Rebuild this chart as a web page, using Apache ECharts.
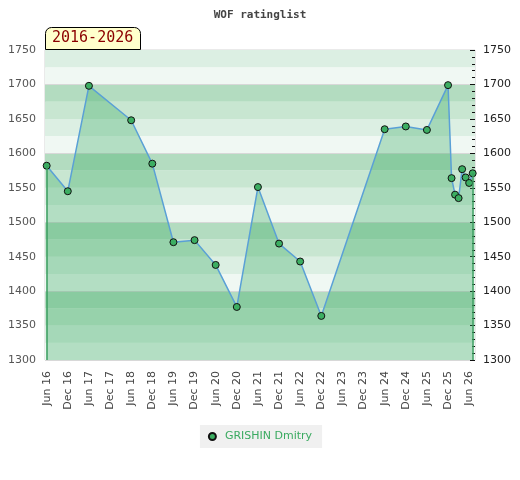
<!DOCTYPE html>
<html lang="en">

<head>
    <meta charset="UTF-8">
    <title>WOF ratinglist</title>
    <style>
        html, body { margin: 0; padding: 0; background: #fff; }
        .show { width: 520px; height: 480px; }
    </style>
</head>

<body>
    <div class="show"></div>
    <script src="https://cdn.jsdelivr.net/npm/echarts@6/dist/echarts.min.js"></script>
    <script>
        // rating list months and values
        let months = ['2016-06', '2016-12', '2017-06', '2018-06', '2018-12', '2019-06', '2019-12', '2020-06',
            '2020-12', '2021-06', '2021-12', '2022-06', '2022-12', '2024-06', '2024-12', '2025-06', '2025-12',
            '2026-01', '2026-02', '2026-03', '2026-04', '2026-05', '2026-06', '2026-07'];
        let ratings = [1582, 1545, 1698, 1648, 1585, 1471, 1474, 1438, 1377, 1551, 1469, 1443, 1364,
            1635, 1639, 1634, 1699, 1564, 1540, 1535, 1577, 1565, 1557, 1571];
        // x axis labels (every half year)
        let xTickMonths = ['2016-06', '2016-12', '2017-06', '2017-12', '2018-06', '2018-12', '2019-06', '2019-12',
            '2020-06', '2020-12', '2021-06', '2021-12', '2022-06', '2022-12', '2023-06', '2023-12', '2024-06',
            '2024-12', '2025-06', '2025-12', '2026-06'];
        let playerName = 'GRISHIN Dmitry';
        let monthNames = ['Jan', 'Feb', 'Mar', 'Apr', 'May', 'Jun', 'Jul', 'Aug', 'Sep', 'Oct', 'Nov', 'Dec'];

        // months counted from Jan 2016 (day of month as a fraction)
        function toMonth(s) {
            let p = s.split('-');
            let day = p[2] ? +p[2] : 1;
            return (+p[0] - 2016) * 12 + (+p[1] - 1) + (day - 1) / 30.5;
        }

        let points = months.map(function (m, i) {
            return [toMonth(m), ratings[i]];
        });
        let first = points[0];
        let last = points[points.length - 1];
        let yMin = 1300;
        let yMax = 1750;
        let plainNumber = function (v) { return String(v); };

        const myChart = echarts.init(document.querySelector('.show'));
        let option = {
            backgroundColor: '#fff',
            animation: false,
            title: [{
                text: 'WOF ratinglist',
                left: 'center',
                top: 5,
                textStyle: {
                    fontFamily: 'DejaVu Sans Mono',
                    fontWeight: 'bold',
                    fontSize: 11,
                    color: '#444'
                }
            }, {
                text: '2016-2026', // period box
                left: 45,
                top: 27,
                padding: [4, 7, 4, 7],
                backgroundColor: '#ffffcc',
                borderColor: '#000',
                borderWidth: 1,
                borderRadius: [6, 6, 0, 0],
                textStyle: {
                    fontFamily: 'DejaVu Sans Mono',
                    fontWeight: 'normal',
                    fontSize: 15,
                    lineHeight: 15,
                    color: '#8b0000'
                }
            }],
            legend: {
                top: 425,
                left: 'center',
                backgroundColor: '#f0f0f0',
                padding: [6, 10, 6, 8],
                itemWidth: 7,
                itemHeight: 7,
                icon: 'circle',
                textStyle: {
                    fontFamily: 'DejaVu Sans',
                    fontSize: 11,
                    color: '#3aaa60',
                    padding: [0, 0, 0, 4]
                },
                data: [playerName]
            },
            grid: {
                left: 45,
                right: 45,
                top: 50,
                bottom: 120,
                show: true,
                borderColor: '#d4d4d4',
                borderWidth: 1,
                backgroundColor: 'transparent'
            },
            xAxis: {
                type: 'value',
                min: toMonth('2016-05-17'),
                max: toMonth('2026-07-21'),
                axisLine: { show: false },
                axisTick: { show: false },
                splitLine: { show: false },
                axisLabel: {
                    rotate: 90,
                    margin: 11,
                    fontFamily: 'DejaVu Sans',
                    fontSize: 11,
                    color: '#444',
                    customValues: xTickMonths.map(toMonth),
                    formatter: function (v) {
                        let m = Math.round(v);
                        return monthNames[m % 12] + ' ' + String(16 + Math.floor(m / 12));
                    }
                }
            },
            yAxis: [{
                type: 'value',
                position: 'left',
                min: yMin,
                max: yMax,
                interval: 50,
                axisLine: { show: false },
                axisTick: { show: false },
                splitLine: { show: false },
                axisLabel: {
                    margin: 9,
                    fontFamily: 'DejaVu Sans',
                    fontSize: 11,
                    color: '#555',
                    formatter: plainNumber
                }
            }, {
                type: 'value',
                position: 'right',
                min: yMin,
                max: yMax,
                interval: 50,
                axisLine: { show: false },
                axisTick: {
                    show: true,
                    inside: true,
                    length: 5,
                    lineStyle: { color: '#111' }
                },
                minorTick: {
                    show: true,
                    splitNumber: 5,
                    length: 3,
                    lineStyle: { color: '#111' }
                },
                splitLine: { show: false },
                axisLabel: {
                    margin: 8,
                    fontFamily: 'DejaVu Sans',
                    fontSize: 11,
                    color: '#222',
                    formatter: plainNumber
                }
            }, {
                // hidden axis for the background bands
                type: 'value',
                position: 'left',
                min: yMin,
                max: yMax,
                interval: 25,
                axisLine: { show: false },
                axisTick: { show: false },
                axisLabel: { show: false },
                splitArea: {
                    show: true,
                    areaStyle: {
                        color: ['#f0f8f3', '#dcefe3', '#c8e6d1', '#b3dcc0']
                    }
                },
                splitLine: {
                    show: true,
                    lineStyle: {
                        color: ['#d8d8d8', 'rgba(0,0,0,0)', 'rgba(0,0,0,0)', 'rgba(0,0,0,0)'],
                        width: 1
                    }
                }
            }],
            series: [{
                name: playerName,
                type: 'line',
                yAxisIndex: 0,
                data: points,
                symbol: 'circle',
                symbolSize: 7,
                showAllSymbol: true,
                lineStyle: {
                    color: '#5aa0d6',
                    width: 1.5
                },
                itemStyle: {
                    color: '#3cae62',
                    borderColor: '#111',
                    borderWidth: 1
                },
                areaStyle: {
                    origin: 'start',
                    color: 'rgba(48,167,90,0.45)'
                },
                markLine: { // green edges of the filled area
                    silent: true,
                    symbol: 'none',
                    label: { show: false },
                    lineStyle: {
                        color: '#3a9e5f',
                        type: 'solid',
                        width: 1.5
                    },
                    data: [
                        [{ coord: first }, { coord: [first[0], yMin] }],
                        [{ coord: last }, { coord: [last[0], yMin] }]
                    ]
                }
            }]
        };

        myChart.setOption(option)
    </script>
</body>

</html>
